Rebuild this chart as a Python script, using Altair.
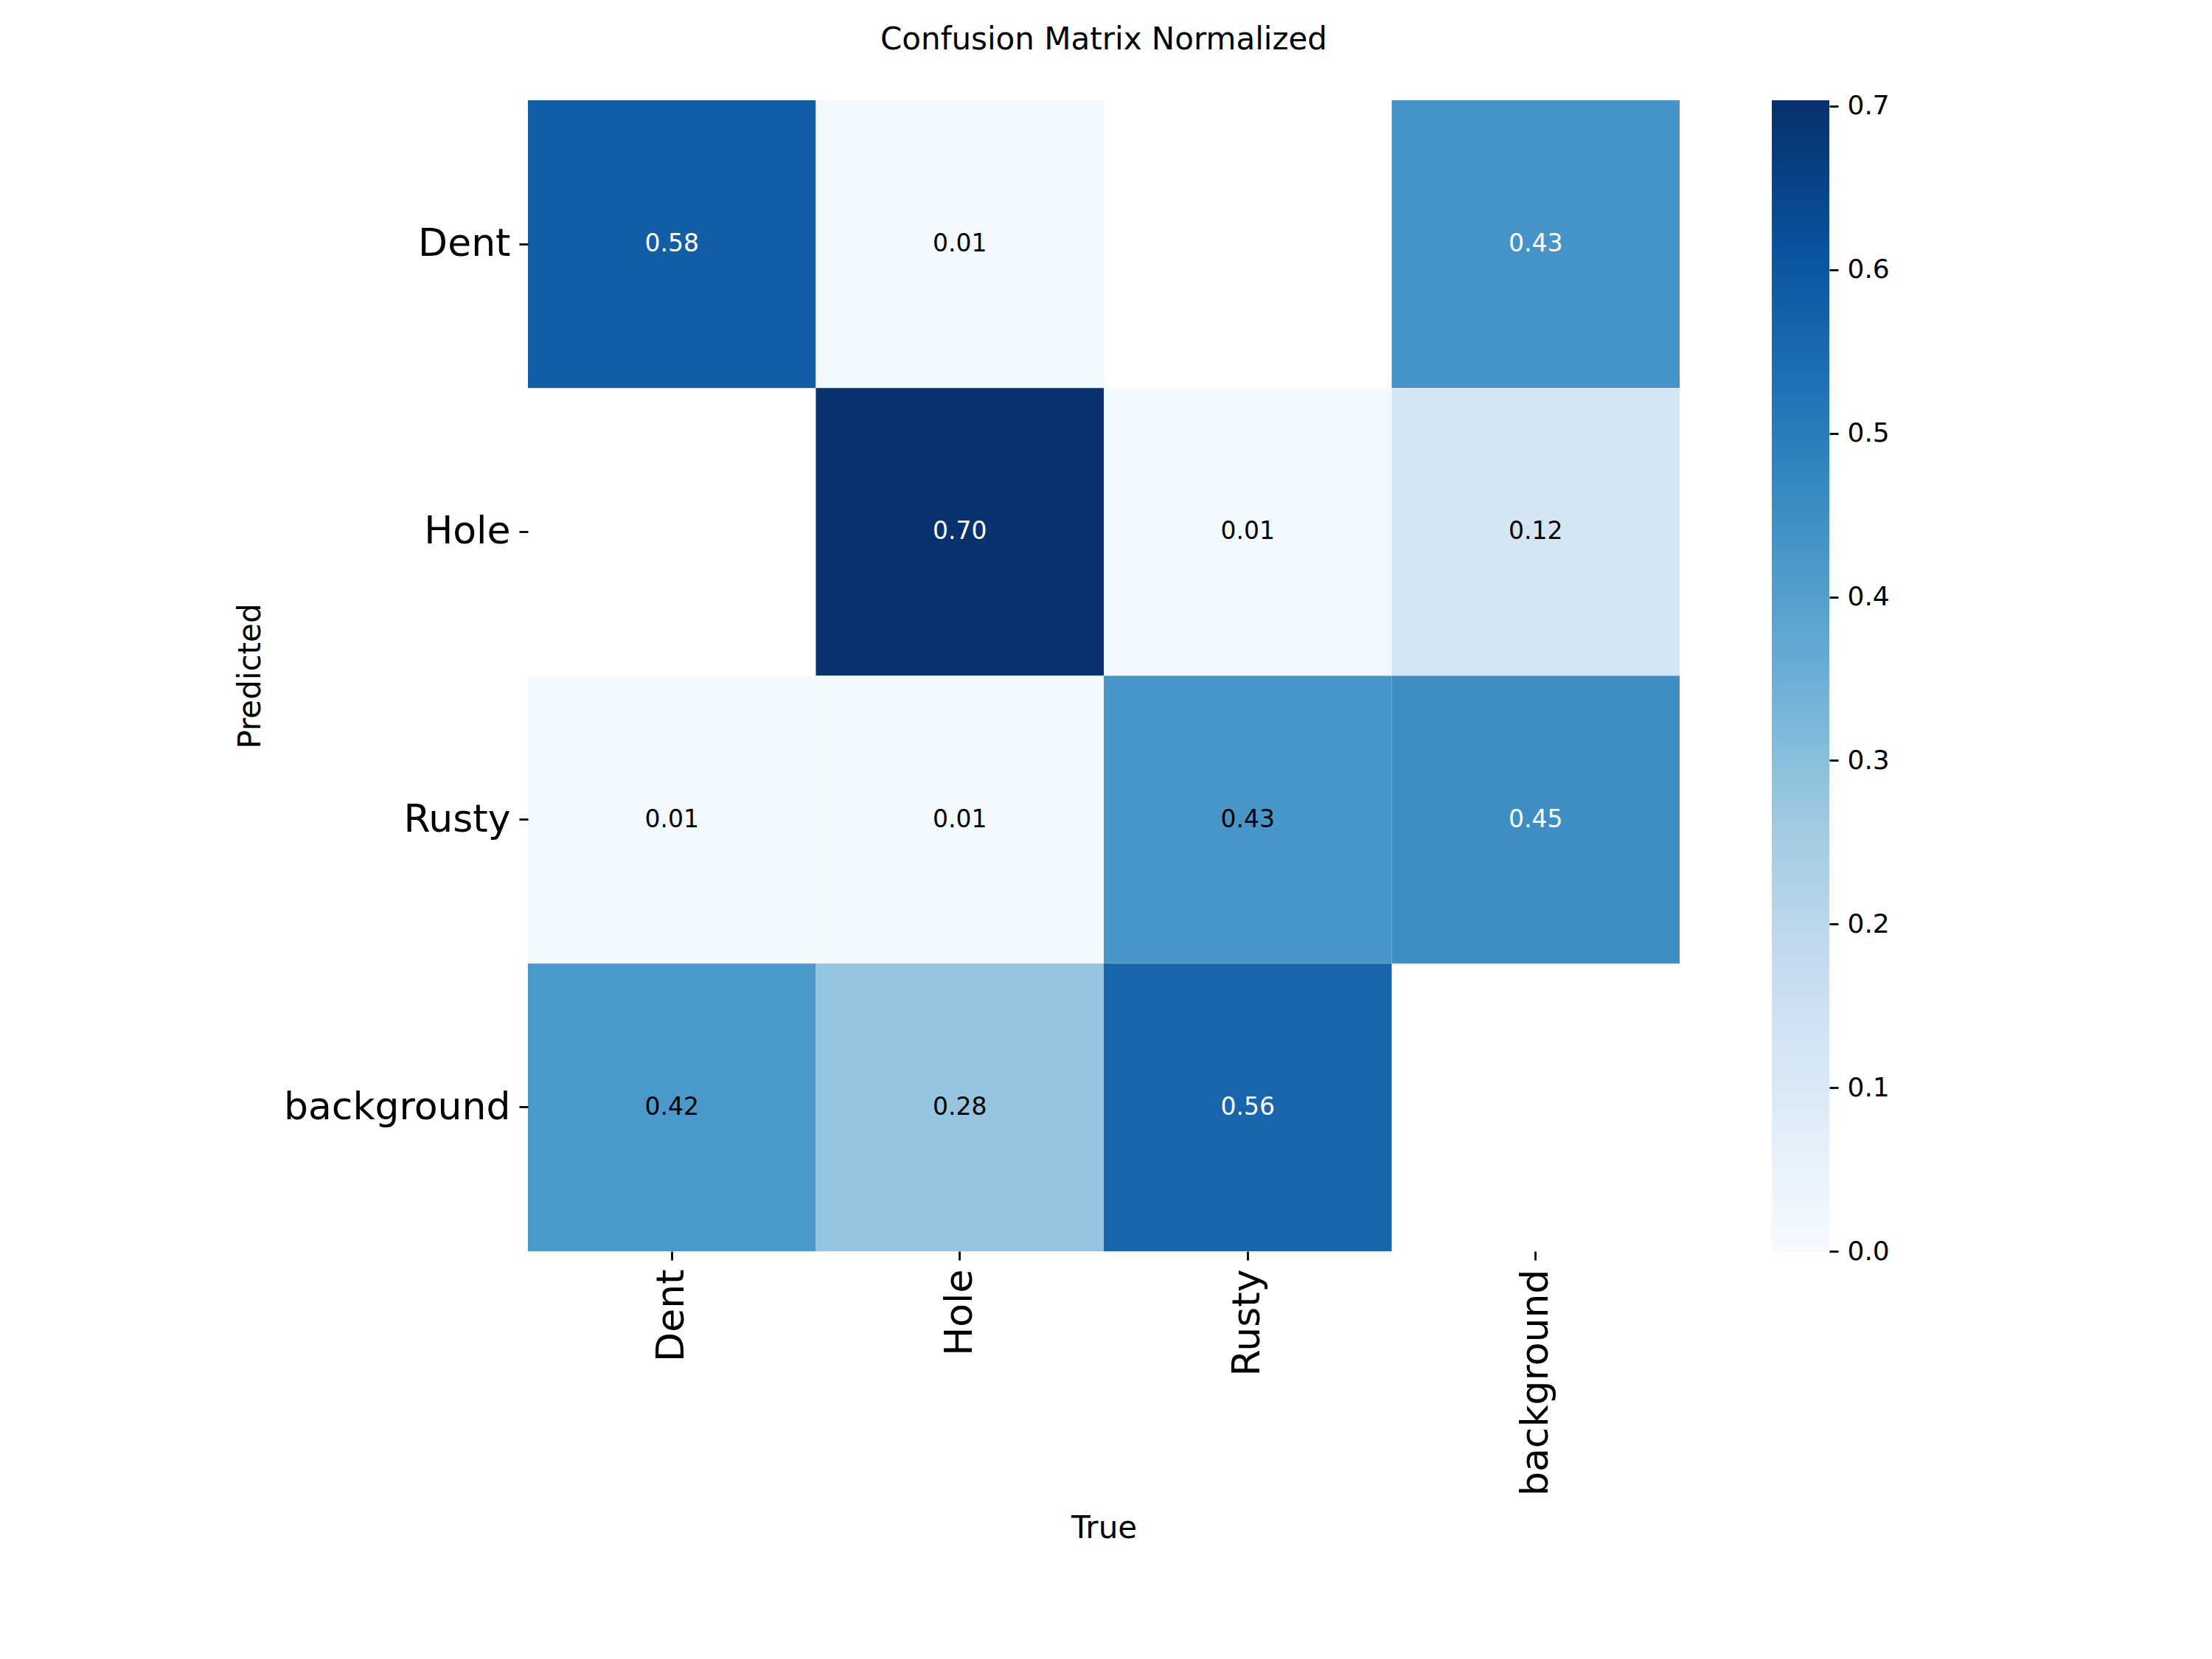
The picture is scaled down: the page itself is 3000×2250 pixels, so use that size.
import altair as alt
import pandas as pd

# Class names (rows = predicted, columns = true)
classes = ["Dent", "Hole", "Rusty", "background"]

# Normalized confusion matrix, one list per predicted class; None = empty cell
row_dent = [0.58, 0.01, None, 0.434]
row_hole = [None, 0.70, 0.01, 0.12]
row_rusty = [0.01, 0.01, 0.426, 0.45]
row_background = [0.42, 0.28, 0.56, None]

# Colorbar range and tick values
cbar_max = 0.7036
cbar_ticks = [0.0, 0.1, 0.2, 0.3, 0.4, 0.5, 0.6, 0.7]

# Annotations above this value are drawn in white
text_threshold = 0.43

# Matplotlib "Blues" colormap anchor colours
blues = ["#f7fbff", "#deebf7", "#c6dbef", "#9ecae1", "#6baed6",
         "#4292c6", "#2171b5", "#08519c", "#08306b"]

FONT = "DejaVu Sans"

records = []
for pred, row in zip(classes, [row_dent, row_hole, row_rusty, row_background]):
    for true, val in zip(classes, row):
        if val is not None:
            records.append({"Predicted": pred, "True": true, "value": val})
df = pd.DataFrame(records)

stops = [cbar_max * i / (len(blues) - 1) for i in range(len(blues))]
color_scale = alt.Scale(domain=stops, range=blues, interpolate="rgb")

x_enc = alt.X(
    "True:N", sort=classes,
    scale=alt.Scale(paddingInner=0, paddingOuter=0),
    axis=alt.Axis(
        title="True", labelAngle=270, labelFontSize=52, labelFont=FONT,
        labelColor="black", labelPadding=12, labelLimit=500, tickSize=12,
        tickWidth=2.8, tickColor="black", domain=False, grid=False,
        titleFontSize=42, titleFont=FONT, titleFontWeight="normal",
        titleColor="black", titlePadding=155,
    ),
)
y_enc = alt.Y(
    "Predicted:N", sort=classes,
    scale=alt.Scale(paddingInner=0, paddingOuter=0),
    axis=alt.Axis(
        title="Predicted", labelFontSize=52, labelFont=FONT,
        labelColor="black", labelPadding=12, labelLimit=500, tickSize=12,
        tickWidth=2.8, tickColor="black", domain=False, grid=False,
        titleFontSize=42, titleFont=FONT, titleFontWeight="normal",
        titleColor="black", titlePadding=155,
    ),
)

cells = alt.Chart(df).mark_rect().encode(
    x=x_enc, y=y_enc,
    color=alt.Color("value:Q", scale=color_scale, legend=None),
)

labels = alt.Chart(df).mark_text(font=FONT, fontSize=33).encode(
    x=alt.X("True:N", sort=classes),
    y=alt.Y("Predicted:N", sort=classes),
    text=alt.Text("value:Q", format=".2f"),
    color=alt.condition(alt.datum.value > text_threshold, alt.value("white"), alt.value("black")),
)

heatmap = alt.layer(cells, labels).properties(
    width=1562, height=1561,
    title=alt.TitleParams(
        "Confusion Matrix Normalized", fontSize=42, font=FONT,
        fontWeight="normal", color="black", offset=60, anchor="middle",
    ),
)

# Colorbar: one rect filled with the Blues gradient, with its own axis
cbar_df = pd.DataFrame({"lo": [0.0], "hi": [cbar_max]})
gradient = alt.LinearGradient(
    gradient="linear",
    stops=[alt.GradientStop(color=c, offset=i / (len(blues) - 1)) for i, c in enumerate(blues)],
    x1=0, x2=0, y1=1, y2=0,
)
colorbar = alt.Chart(cbar_df).mark_rect(color=gradient).encode(
    y=alt.Y(
        "lo:Q", scale=alt.Scale(domain=[0, cbar_max], nice=False, zero=True),
        axis=alt.Axis(
            orient="right", title=None, values=cbar_ticks, format=".1f",
            labelFontSize=36, labelFont=FONT, labelColor="black",
            labelPadding=12, tickSize=12, tickWidth=2.8, tickColor="black",
            domain=False, grid=False,
        ),
    ),
    y2="hi:Q",
    x=alt.value(0), x2=alt.value(78),
).properties(width=78, height=1561)

chart = alt.hconcat(heatmap, colorbar, spacing=125).properties(
    padding={"left": 318, "top": 33, "right": 100, "bottom": 120},
    background="white",
).configure_view(stroke=None)

chart.save("out.html", embed_options={"renderer": "svg", "actions": False})
